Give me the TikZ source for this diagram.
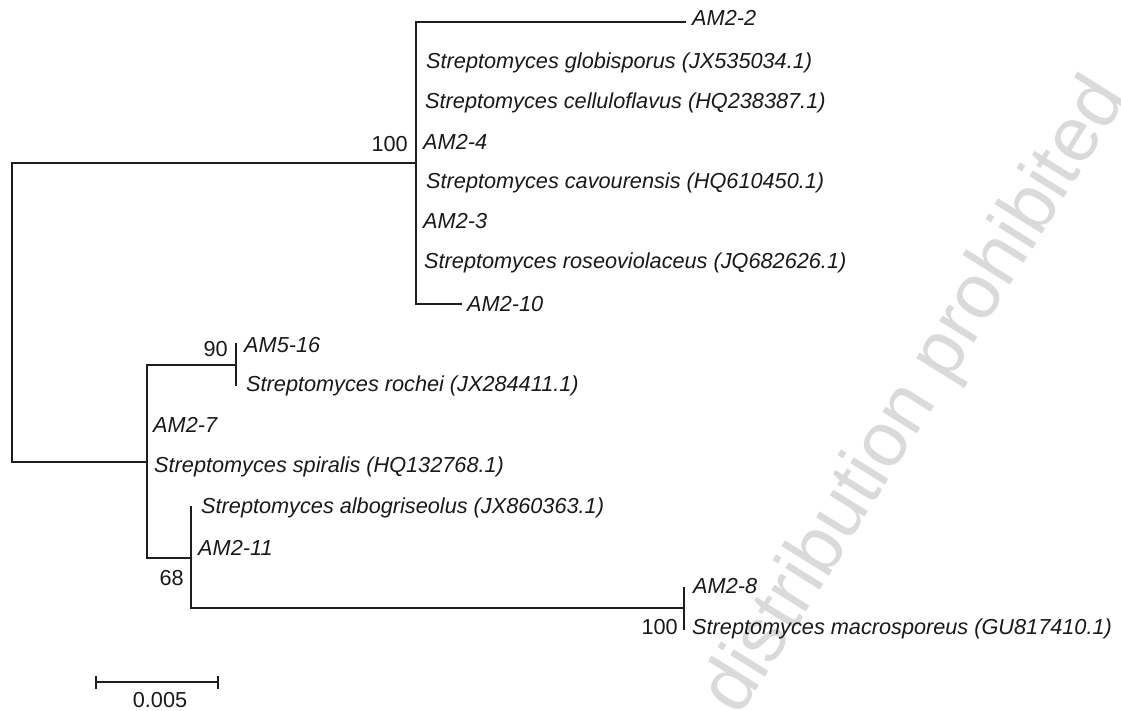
\documentclass[tikz,border=0pt]{standalone}
\usepackage{fontspec}
\setmainfont{Liberation Sans}
\begin{document}
\begin{tikzpicture}[x=1pt,y=-1pt,
  branch/.style={line width=2.6pt, line join=miter, draw={rgb,255:red,30;green,30;blue,30}},
  lab/.style={anchor=base west, inner sep=0pt, text={rgb,255:red,25;green,25;blue,25}, font=\fontsize{21.7}{24}\selectfont\itshape},
  boot/.style={anchor=base east, inner sep=0pt, text={rgb,255:red,25;green,25;blue,25}, font=\fontsize{21.7}{24}\selectfont},
  wmark/.style={inner sep=0pt, rotate=58, text={rgb,255:red,218;green,218;blue,218}, font=\fontsize{77}{78}\selectfont}]
\useasboundingbox (0,0) rectangle (1121,711);
\fill[white] (0,0) rectangle (1121,711);
% watermark
\node[wmark] (wm) at (917,397) {distribution prohibited};
% coordinates
\coordinate (r) at (12,312);
\coordinate (nU) at (416,163);
\coordinate (nL) at (147,462);
\coordinate (t22) at (686,22);
\coordinate (t210) at (462,304);
\coordinate (n90) at (236,365);
\coordinate (n90t) at (236,343);
\coordinate (n90b) at (236,386);
\coordinate (n68) at (191,558);
\coordinate (n68t) at (191,506);
\coordinate (n8) at (684,608);
\coordinate (n8t) at (684,587);
\coordinate (n8b) at (684,630);
\coordinate (sb1) at (96,682);
\coordinate (sb2) at (218,682);
% branches
\draw[branch] (nU) -| (r) |- (nL);
\draw[branch] (t22) -| (nU) |- (t210);
\draw[branch] (n90) -| (nL) |- (n68);
\draw[branch] (n90t) -- (n90b);
\draw[branch] (n68t) |- (n8);
\draw[branch] (n8t) -- (n8b);
% labels upper clade
\node[lab] (l22) at (692,26) {AM2-2};
\node[lab] (lglo) at (426,69) {Streptomyces globisporus (JX535034.1)};
\node[lab] (lcel) at (425,109) {Streptomyces celluloflavus (HQ238387.1)};
\node[lab] (l24) at (423,150) {AM2-4};
\node[lab] (lcav) at (426,189) {Streptomyces cavourensis (HQ610450.1)};
\node[lab] (l23) at (423,229) {AM2-3};
\node[lab] (lros) at (424,269) {Streptomyces roseoviolaceus (JQ682626.1)};
\node[lab] (l210) at (467,311) {AM2-10};
\node[boot] (bU) at (408,152) {100};
% labels lower clade
\node[lab] (l516) at (244,352) {AM5-16};
\node[lab] (lroc) at (246,391) {Streptomyces rochei (JX284411.1)};
\node[boot] (b90) at (228,356) {90};
\node[lab] (l27) at (153,432) {AM2-7};
\node[lab] (lspi) at (154,472) {Streptomyces spiralis (HQ132768.1)};
\node[lab] (lalb) at (201,513) {Streptomyces albogriseolus (JX860363.1)};
\node[lab] (l211) at (198,555) {AM2-11};
\node[boot] (b68) at (184,585) {68};
\node[lab] (l28) at (693,593) {AM2-8};
\node[lab] (lmac) at (692,634) {Streptomyces macrosporeus (GU817410.1)};
\node[boot] (b8) at (678,634) {100};
% scale bar
\draw[branch, line width=2.2pt] (sb1) -- (sb2);
\draw[branch, line width=2.2pt] ([yshift=-7pt]sb1) -- ([yshift=6pt]sb1);
\draw[branch, line width=2.2pt] ([yshift=-7pt]sb2) -- ([yshift=6pt]sb2);
\node[anchor=base, inner sep=0pt, text={rgb,255:red,25;green,25;blue,25}, font=\fontsize{21.7}{24}\selectfont] (sbl) at (160,707) {0.005};
\end{tikzpicture}
\end{document}
